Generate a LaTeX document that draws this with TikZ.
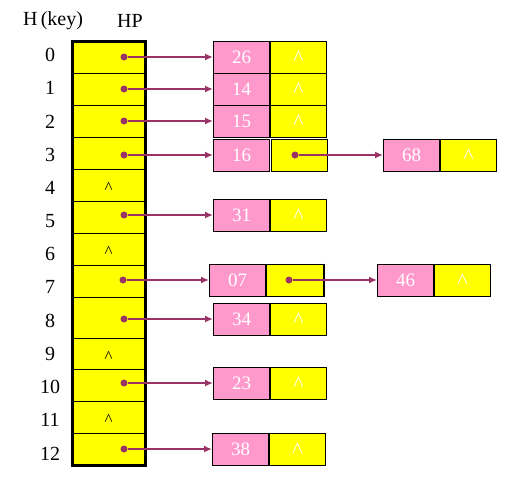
\documentclass[tikz,border=0pt]{standalone}
\usepackage{fontspec}
\setmainfont{Liberation Serif}
\usetikzlibrary{arrows.meta}
\definecolor{cellyellow}{RGB}{255,255,0}
\definecolor{keypink}{RGB}{255,153,204}
\definecolor{linkplum}{RGB}{153,51,102}
\begin{document}
\begin{tikzpicture}[x=1pt,y=-1pt,
    slot/.style={draw,fill=cellyellow,line width=0.8pt,minimum width=73pt,inner sep=0},
    keybox/.style={draw,fill=keypink,line width=1pt,minimum width=56pt,minimum height=32pt,
        inner sep=0,text=white,font=\fontsize{19}{19}\selectfont},
    nextbox/.style={keybox,fill=cellyellow,font=\fontsize{22}{22}\selectfont,
        text height=16pt,text depth=0pt},
    link/.style={linkplum,line width=1.6pt,-{Latex[length=8pt,width=7pt]}},
    ptr/.style={circle,fill=linkplum,inner sep=0,minimum size=7pt},
    idx/.style={font=\fontsize{20}{20}\selectfont}]
    \useasboundingbox (0,0) rectangle (526,493);
    % Headings
    \node[idx] (hkey) at (53,21) {H\,(key)};
    \node[idx] (hp) at (130,21) {HP};
    % Table
    \foreach \i/\top/\bot in {0/41/73,1/73/105,2/105/137,3/137/169,4/169/201,5/201/233,
        6/233/265,7/265/297,8/297/338,9/338/369,10/369/401,11/401/433,12/433/465}{
        \pgfmathsetmacro\h{\bot-\top}
        \node[slot,minimum height=\h pt] (hp\i) at (108.5,{(\top+\bot)/2}) {};
        \node[idx] (n\i) at (50,{55+33.2*\i}) {\i};
    }
    \draw[line width=3pt] (72,41) rectangle (145,465);
    % Empty slots
    \foreach \i in {4,6,9,11}
        \node[font=\fontsize{17}{17}\selectfont] (nil\i) at ([yshift=-3pt]hp\i.center) {\textasciicircum};
    % Lists with one node
    \foreach \r/\y/\x/\k in {0/57/213/26,1/89/213/14,2/121/213/15,5/215/213/31,
        8/319/213/34,10/383/213/23,12/449/212/38}{
        \node[ptr] (p\r) at (124,\y) {};
        \node[keybox,anchor=west] (k\r) at (\x,\y) {\k};
        \node[nextbox,anchor=west] (t\r) at (k\r.east) {\textasciicircum};
        \draw[link] (p\r) -- (k\r.west);
    }
    % Row 3
    \node[ptr] (p3) at (124,155) {};
    \node[keybox,anchor=west] (k3) at (213,155) {16};
    \node[nextbox,anchor=west] (t3) at (271,155) {};
    \node[ptr] (q3) at (295,155) {};
    \node[keybox,anchor=west] (m3) at (383,155) {68};
    \node[nextbox,anchor=west] (u3) at (m3.east) {\textasciicircum};
    \draw[link] (p3) -- (k3.west);
    \draw[link] (q3) -- (m3.west);
    % Row 7
    \node[ptr] (p7) at (123,280) {};
    \node[keybox,anchor=west] (k7) at (209,280) {07};
    \node[nextbox,anchor=west,minimum width=58pt] (t7) at (k7.east) {};
    \draw[line width=1pt] ([xshift=-1.6pt]t7.north east) -- ([xshift=-1.6pt]t7.south east);
    \node[ptr] (q7) at (289,280) {};
    \node[keybox,anchor=west] (m7) at (377,280) {46};
    \node[nextbox,anchor=west] (u7) at (m7.east) {\textasciicircum};
    \draw[link] (p7) -- (k7.west);
    \draw[link] (q7) -- (m7.west);
\end{tikzpicture}
\end{document}
